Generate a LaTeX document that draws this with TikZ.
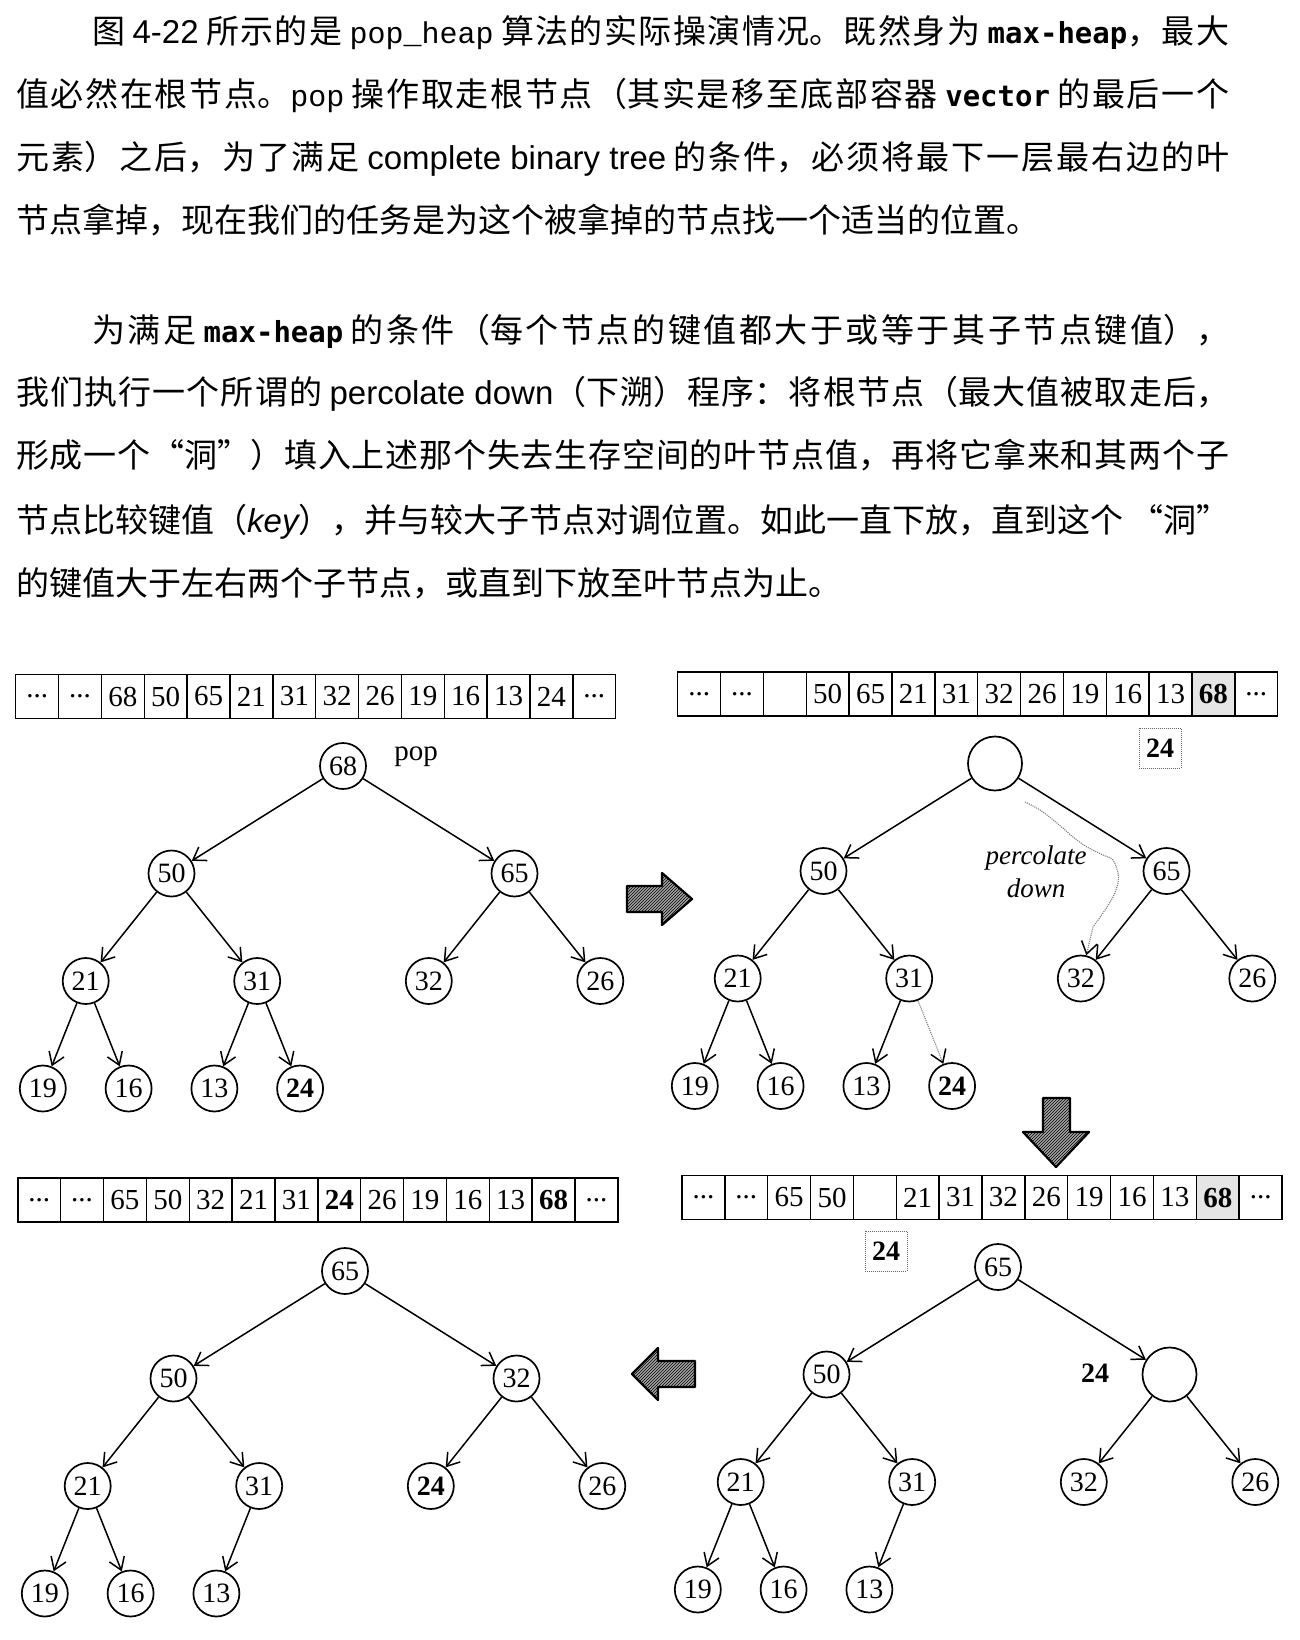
\documentclass[tikz,border=0pt]{standalone}
\usepackage{fontspec}
\setmainfont{Liberation Serif}
\newfontfamily\cjk{Noto Sans CJK SC}
\newfontfamily\lsans{Liberation Sans}
\newfontfamily\lmono{Liberation Mono}
\newfontfamily\dmono{DejaVu Sans Mono}
\usetikzlibrary{arrows.meta,patterns,calc}
\XeTeXlinebreaklocale "zh"
\XeTeXlinebreakskip=0pt plus 1fil
\newcommand\zhsize{\fontsize{33}{40}\selectfont}
\newcommand\mo[1]{{\lmono\fontsize{30}{36}\selectfont #1}}
\newcommand\mb[1]{{\dmono\bfseries\fontsize{29}{36}\selectfont #1}}
\newcommand\sa[1]{{\lsans #1}}
\newcommand\el{...}
\newcommand\jline[2]{\parbox[b]{#1}{\parfillskip=0pt\relax\XeTeXlinebreakskip=0pt plus 1fil\relax #2}}
\newcommand\treeat[3]{%
 \coordinate (#1p1) at (#2,#3);
 \coordinate (#1p2) at ({#2-171.5},{#3+107.5});
 \coordinate (#1p3) at ({#2+171.5},{#3+107.5});
 \coordinate (#1p4) at ({#2-257.3},{#3+215});
 \coordinate (#1p5) at ({#2-85.8},{#3+215});
 \coordinate (#1p6) at ({#2+85.8},{#3+215});
 \coordinate (#1p7) at ({#2+257.3},{#3+215});
 \coordinate (#1p8) at ({#2-300.2},{#3+322.5});
 \coordinate (#1p9) at ({#2-214.4},{#3+322.5});
 \coordinate (#1p10) at ({#2-128.6},{#3+322.5});
 \coordinate (#1p11) at ({#2-42.9},{#3+322.5});
}
\newcommand\arr[4]{%
 \foreach \c [count=\i] in {#4} {\node[cell] (#1\i) at ({#2+(\i-0.5)*42.86},#3) {\c};}
}
\tikzset{
 cell/.style={draw, line width=1.4pt, minimum width=42.86pt, minimum height=44pt, inner sep=0pt, font=\fontsize{29}{30}\selectfont},
 hn/.style={draw, circle, line width=1.7pt, minimum size=46pt, inner sep=0pt, font=\fontsize{28}{28}\selectfont},
 hole/.style={hn, minimum size=54pt},
 edge/.style={line width=1.5pt, -{Straight Barb[length=12pt,width=16pt,line width=1.5pt]}},
 trail/.style={gray, line width=1.1pt, densely dotted, -{Straight Barb[length=12pt,width=16pt,line width=1.5pt,color=black]}},
 tmpbox/.style={draw=gray!80!black, densely dotted, line width=1pt, minimum width=42pt, minimum height=40pt, inner sep=0pt, font=\bfseries\fontsize{28}{30}\selectfont},
 fatarrow/.style={draw=black, line width=2.2pt, line join=round, preaction={fill=gray!70}, pattern=north east lines, pattern color=black},
 txt/.style={anchor=base west, inner sep=0pt, font=\cjk\zhsize},
}
\begin{document}
\begin{tikzpicture}[x=1pt,y=-1pt]
\fill[white] (0,0) rectangle (1300,1640);
\path[use as bounding box] (0,0) rectangle (1300,1640);
% ---------- text ----------
\node[txt] (l1) at (92,43.5) {\jline{1137pt}{图 \sa{4-22} 所示的是 \mo{pop\_heap} 算法的实际操演情况。既然身为 \mb{max-heap}，最大}};
\node[txt] (l2) at (16,106.5) {\jline{1213pt}{值必然在根节点。\mo{pop} 操作取走根节点（其实是移至底部容器 \mb{vector} 的最后一个}};
\node[txt] (l3) at (16,169.5) {\jline{1213pt}{元素）之后，为了满足 \sa{complete binary tree} 的条件，必须将最下一层最右边的叶}};
\node[txt] (l4) at (16,232.5) {节点拿掉，现在我们的任务是为这个被拿掉的节点找一个适当的位置。};
\node[txt] (m1) at (92,342) {\jline{1137pt}{为满足 \mb{max-heap} 的条件（每个节点的键值都大于或等于其子节点键值），}};
\node[txt] (m2) at (16,404.5) {\jline{1213pt}{我们执行一个所谓的 \sa{percolate down}（下溯）程序：将根节点（最大值被取走后，}};
\node[txt] (m3) at (16,467.5) {\jline{1213pt}{形成一个“洞”）填入上述那个失去生存空间的叶节点值，再将它拿来和其两个子}};
\node[txt] (m4) at (16,532.5) {\jline{1213pt}{节点比较键值（\sa{\itshape key}），并与较大子节点对调位置。如此一直下放，直到这个 “洞”}};
\node[txt] (m5) at (16,595) {的键值大于左右两个子节点，或直到下放至叶节点为止。};
% ---------- arrays ----------
\fill[gray!20] (1192.02,672) rectangle (1234.88,716);
\fill[gray!20] (1196.32,1175.5) rectangle (1239.18,1219.5);
\arr{A}{15.7}{696.5}{\el,\el,68,50,65,21,31,32,26,19,16,13,24,\el}
\arr{B}{677.7}{694}{\el,\el,{},50,65,21,31,32,26,19,16,13,\textbf{68},\el}
\arr{C}{17.8}{1200}{\el,\el,65,50,32,21,31,\textbf{24},26,19,16,13,\textbf{68},\el}
\arr{D}{682}{1197.5}{\el,\el,65,50,{},21,31,32,26,19,16,13,\textbf{68},\el}
\node[tmpbox] (tmpB) at (1160,748) {24};
\node[tmpbox] (tmpD) at (886,1251) {24};
% ---------- tree TL ----------
\treeat{a}{343}{766}
\node[hn] (a1) at (ap1) {68};
\node[hn] (a2) at (ap2) {50};
\node[hn] (a3) at (ap3) {65};
\node[hn] (a4) at (ap4) {21};
\node[hn] (a5) at (ap5) {31};
\node[hn] (a6) at (ap6) {32};
\node[hn] (a7) at (ap7) {26};
\node[hn] (a8) at (ap8) {19};
\node[hn] (a9) at (ap9) {16};
\node[hn] (a10) at (ap10) {13};
\node[hn] (a11) at (ap11) {\textbf{24}};
\node[font=\fontsize{29}{30}\selectfont] (poplbl) at (416,757) {pop};
\foreach \p/\c in {1/2,1/3,2/4,2/5,3/6,3/7,4/8,4/9,5/10,5/11} \draw[edge] (a\p) -- (a\c);
% ---------- tree TR ----------
\treeat{b}{995}{763.5}
\node[hole] (b1) at (bp1) {};
\node[hn] (b2) at (bp2) {50};
\node[hn] (b3) at (bp3) {65};
\node[hn] (b4) at (bp4) {21};
\node[hn] (b5) at (bp5) {31};
\node[hn] (b6) at (bp6) {32};
\node[hn] (b7) at (bp7) {26};
\node[hn] (b8) at (bp8) {19};
\node[hn] (b9) at (bp9) {16};
\node[hn] (b10) at (bp10) {13};
\node[hn] (b11) at (bp11) {\textbf{24}};
\foreach \p/\c in {1/2,1/3,2/4,2/5,3/6,3/7,4/8,4/9,5/10} \draw[edge] (b\p) -- (b\c);
\draw[trail] (b5) -- (b11);
\node[align=center, font=\itshape\fontsize{27}{33}\selectfont] (pdl) at (1036,872) {percolate\\down};
\coordinate (pdstart) at (1025,802);
\draw[trail] plot[smooth, tension=0.55] coordinates {(1025,802) (1040,810) (1057,823) (1073,837) (1087,847) (1103,855) (1113,860) (1118,873) (1118,883) (1113,897) (1103,913) (1093,927)} -- (b6);
% ---------- fat arrows ----------
\path[fatarrow] (627,886) -- (662,886) -- (662,873) -- (692,899) -- (662,925) -- (662,912) -- (627,912) -- cycle;
\path[fatarrow] (1043,1098) -- (1070,1098) -- (1070,1132) -- (1089,1132) -- (1056,1167) -- (1023,1132) -- (1043,1132) -- cycle;
\path[fatarrow] (695,1361) -- (658,1361) -- (658,1348) -- (632,1374) -- (658,1400) -- (658,1387) -- (695,1387) -- cycle;
% ---------- tree BR ----------
\treeat{d}{998}{1267}
\node[hn] (d1) at (dp1) {65};
\node[hn] (d2) at (dp2) {50};
\node[hole] (d3) at (dp3) {};
\node[hn] (d4) at (dp4) {21};
\node[hn] (d5) at (dp5) {31};
\node[hn] (d6) at (dp6) {32};
\node[hn] (d7) at (dp7) {26};
\node[hn] (d8) at (dp8) {19};
\node[hn] (d9) at (dp9) {16};
\node[hn] (d10) at (dp10) {13};
\node[font=\bfseries\fontsize{28}{30}\selectfont] (hole24) at (1095,1373) {24};
\foreach \p/\c in {1/2,1/3,2/4,2/5,3/6,3/7,4/8,4/9,5/10} \draw[edge] (d\p) -- (d\c);
% ---------- tree BL ----------
\treeat{c}{345}{1271}
\node[hn] (c1) at (cp1) {65};
\node[hn] (c2) at (cp2) {50};
\node[hn] (c3) at (cp3) {32};
\node[hn] (c4) at (cp4) {21};
\node[hn] (c5) at (cp5) {31};
\node[hn] (c6) at (cp6) {\textbf{24}};
\node[hn] (c7) at (cp7) {26};
\node[hn] (c8) at (cp8) {19};
\node[hn] (c9) at (cp9) {16};
\node[hn] (c10) at (cp10) {13};
\foreach \p/\c in {1/2,1/3,2/4,2/5,3/6,3/7,4/8,4/9,5/10} \draw[edge] (c\p) -- (c\c);
\end{tikzpicture}
\end{document}
